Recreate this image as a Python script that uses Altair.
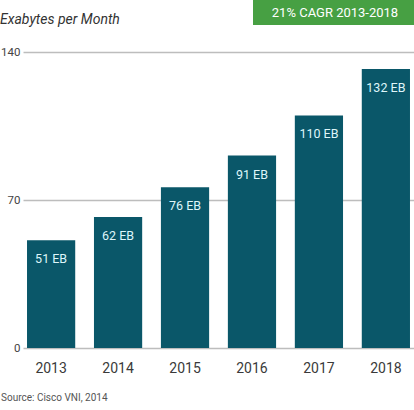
import altair as alt
import pandas as pd

years = ["2013", "2014", "2015", "2016", "2017", "2018"]
traffic_eb = [51, 62, 76, 91, 110, 132]
y_ticks = [0, 70, 140]

title_text = "Exabytes per Month"
badge_text = "21% CAGR 2013-2018"
source_text = "Source: Cisco VNI, 2014"

BAR = "#0a5769"
FONT = "Roboto"

df = pd.DataFrame({"year": years, "eb": traffic_eb})
df["label"] = [f"{v} EB" for v in traffic_eb]

W, H = 391, 296

x_enc = alt.X(
    "year:N",
    sort=years,
    scale=alt.Scale(paddingInner=0.28, paddingOuter=0.06),
    axis=alt.Axis(
        title=None, labelAngle=0, ticks=False, domain=False,
        labelFontSize=14, labelColor="#3a3a3a", labelPadding=13, labelFont=FONT,
    ),
)
y_enc = alt.Y(
    "eb:Q",
    scale=alt.Scale(domain=[0, 140], nice=False),
    axis=alt.Axis(
        title=None, values=y_ticks, ticks=False, domain=False,
        gridColor="#bdbdbd", gridWidth=1.3,
        labelFontSize=11.5, labelColor="#444444", labelPadding=3, labelFont=FONT,
    ),
)

bars = alt.Chart(df).mark_bar(color=BAR).encode(x=x_enc, y=y_enc)

labels = alt.Chart(df).mark_text(
    color="#dff6fa", fontSize=12.5, font=FONT, baseline="middle", dy=19
).encode(x=alt.X("year:N", sort=years), y="eb:Q", text="label:N")

ann = pd.DataFrame({"t": [title_text]})
title = alt.Chart(ann).mark_text(
    align="left", baseline="middle", fontSize=14, fontStyle="italic",
    font=FONT, color="#333333"
).encode(x=alt.value(-23), y=alt.value(-32), text=alt.value(title_text))

badge = alt.Chart(ann).mark_rect(color="#47a043").encode(
    x=alt.value(230), x2=alt.value(400), y=alt.value(-52), y2=alt.value(-27)
)
badge_label = alt.Chart(ann).mark_text(
    align="center", baseline="middle", fontSize=13, font=FONT, color="#ffffff"
).encode(x=alt.value(312), y=alt.value(-39), text=alt.value(badge_text))

source = alt.Chart(ann).mark_text(
    align="left", baseline="middle", fontSize=10, font=FONT, color="#555555"
).encode(x=alt.value(-22), y=alt.value(H + 50), text=alt.value(source_text))

chart = (
    alt.layer(bars, labels, badge, badge_label, title, source)
    .properties(
        width=W, height=H,
        autosize=alt.AutoSizeParams(type="none"),
        padding={"left": 23, "top": 52, "right": 0, "bottom": 62},
        background="white",
    )
    .configure_view(stroke=None)
)

chart.save("out.html", embed_options={"renderer": "svg", "actions": False})
